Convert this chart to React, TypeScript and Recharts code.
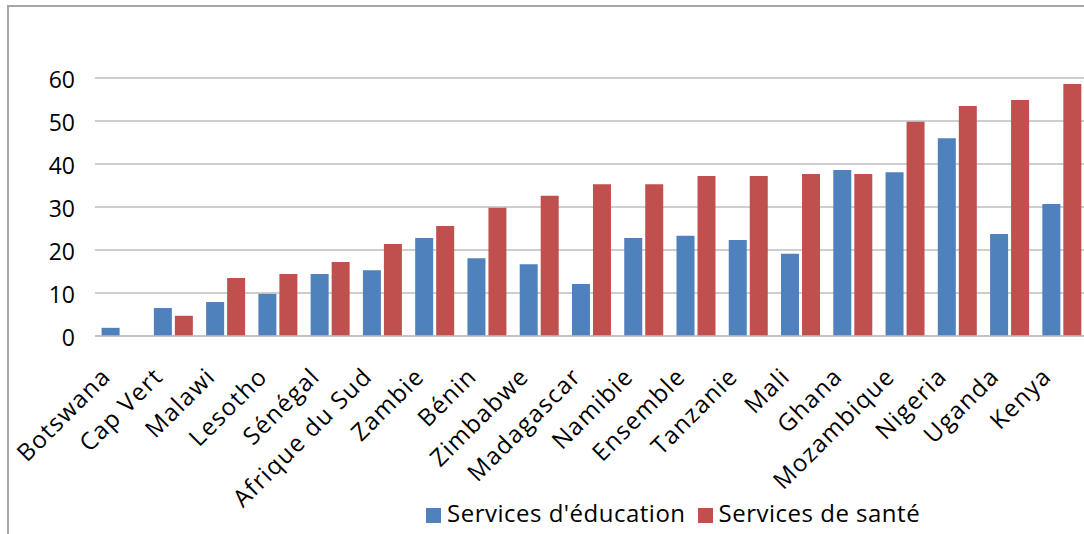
import React from "react";
import { BarChart, Bar, XAxis, YAxis, CartesianGrid } from "recharts";

// countries, sorted by the health-services value
const categories = [
  "Botswana",
  "Cap Vert",
  "Malawi",
  "Lesotho",
  "Sénégal",
  "Afrique du Sud",
  "Zambie",
  "Bénin",
  "Zimbabwe",
  "Madagascar",
  "Namibie",
  "Ensemble",
  "Tanzanie",
  "Mali",
  "Ghana",
  "Mozambique",
  "Nigeria",
  "Uganda",
  "Kenya",
];

const education = [
  1.9, 6.5, 7.9, 9.8, 14.4, 15.3, 22.8, 18.1, 16.7, 12.1, 22.8, 23.3, 22.3,
  19.1, 38.6, 38.1, 46.0, 23.7, 30.7,
];

const health = [
  null, 4.7, 13.5, 14.4, 17.2, 21.4, 25.6, 29.8, 32.6, 35.3, 35.3, 37.2, 37.2,
  37.7, 37.7, 49.8, 53.5, 54.9, 58.6,
];

const yTicks = [0, 10, 20, 30, 40, 50, 60];

const seriesNames = ["Services d'éducation", "Services de santé"];
const seriesColors = ["#4f81bd", "#c0504d"];

const data = categories.map((name, i) => ({
  name,
  education: education[i],
  health: health[i],
}));

const FONT = '"Open Sans", sans-serif';

const CountryTick = (props: any) => {
  const { x, y, payload } = props;
  const ax = x - 9;
  const ay = y + 2;
  return (
    <text
      x={ax}
      y={ay}
      textAnchor="end"
      transform={`rotate(-45, ${ax}, ${ay})`}
      fontFamily={FONT}
      fontSize={24}
      letterSpacing={1.3}
      fill="#000"
    >
      {payload.value}
    </text>
  );
};

const ValueTick = (props: any) => {
  const { x, y, payload } = props;
  return (
    <text
      x={x}
      y={y + 1}
      textAnchor="end"
      dominantBaseline="central"
      fontFamily={FONT}
      fontSize={23}
      fill="#000"
    >
      {payload.value}
    </text>
  );
};

export default function App() {
  return (
    <div
      style={{
        position: "absolute",
        left: 0,
        top: 0,
        width: 1084,
        height: 534,
        background: "#fff",
        overflow: "hidden",
      }}
    >
      {/* chart frame, only left and top edges are visible */}
      <div
        style={{
          position: "absolute",
          left: 7,
          top: 5,
          width: 1200,
          height: 700,
          borderLeft: "2px solid #a6a6a6",
          borderTop: "2px solid #a6a6a6",
        }}
      />

      <div style={{ position: "absolute", left: 0, top: 0 }}>
        <BarChart
          width={1088}
          height={534}
          data={data}
          margin={{ top: 78, right: 0, left: 0, bottom: 58 }}
          barCategoryGap={6.6}
          barGap={3}
        >
          <CartesianGrid vertical={false} stroke="#bebebe" strokeWidth={1.5} />
          <XAxis
            dataKey="name"
            interval={0}
            height={140}
            tickSize={0}
            tickMargin={40}
            axisLine={{ stroke: "#bebebe", strokeWidth: 1.5 }}
            tickLine={false}
            tick={<CountryTick />}
          />
          <YAxis
            width={95}
            domain={[0, 60]}
            ticks={yTicks}
            interval={0}
            tickSize={0}
            tickMargin={20}
            axisLine={false}
            tickLine={false}
            tick={<ValueTick />}
          />
          <Bar
            dataKey="education"
            name={seriesNames[0]}
            fill={seriesColors[0]}
            isAnimationActive={false}
          />
          <Bar
            dataKey="health"
            name={seriesNames[1]}
            fill={seriesColors[1]}
            isAnimationActive={false}
          />
        </BarChart>
      </div>

      {/* Legend */}
      <div
        style={{
          position: "absolute",
          left: 426,
          top: 501,
          display: "flex",
          alignItems: "flex-start",
          fontFamily: FONT,
          fontSize: 24,
          lineHeight: "24px",
          color: "#000",
          whiteSpace: "nowrap",
        }}
      >
        {seriesNames.map((n, i) => (
          <div
            key={n}
            style={{ display: "flex", alignItems: "flex-start", marginRight: 12 }}
          >
            <span
              style={{
                display: "inline-block",
                width: 15,
                height: 15,
                marginTop: 7,
                marginRight: 6,
                background: seriesColors[i],
              }}
            />
            <span style={{ letterSpacing: 0.5 }}>{n}</span>
          </div>
        ))}
      </div>
    </div>
  );
}
